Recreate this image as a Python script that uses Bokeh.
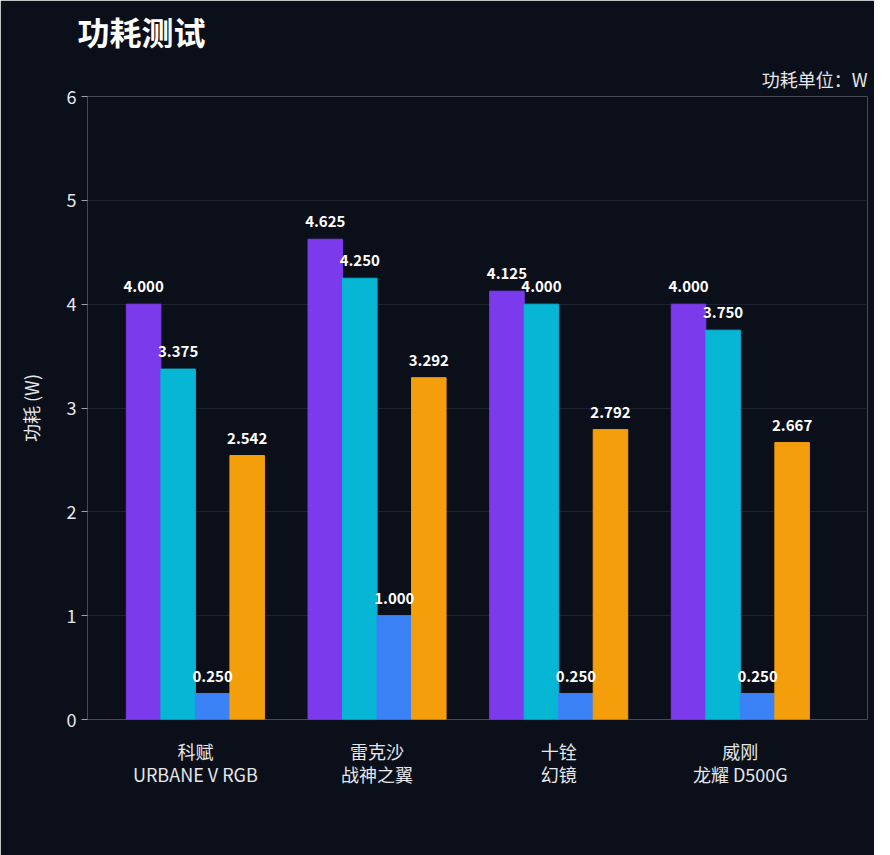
from bokeh.plotting import figure
from bokeh.models import ColumnDataSource, FixedTicker, Legend, LegendItem, Title, LabelSet
from bokeh.core.properties import value
from bokeh.embed import file_html
from bokeh.resources import INLINE

categories = ["科赋\nURBANE V RGB", "雷克沙\n战神之翼", "十铨\n幻镜", "威刚\n龙耀 D500G"]
series_names = ["功耗最高", "功耗当前", "功耗最低", "功耗平均"]
series_values = [
    [4.000, 4.625, 4.125, 4.000],
    [3.375, 4.250, 4.000, 3.750],
    [0.250, 1.000, 0.250, 0.250],
    [2.542, 3.292, 2.792, 2.667],
]
colors = ["#7c3aed", "#06b6d4", "#3b82f6", "#f59e0b"]
y_ticks = [0, 1, 2, 3, 4, 5, 6]

BG = "#0b0f19"
FONT = "Noto Sans CJK SC"
p = figure(frame_width=780, frame_height=623, output_backend="svg", toolbar_location=None,
           x_range=(-0.594, 3.70), y_range=(0, 6),
           background_fill_color=BG, border_fill_color=BG, outline_line_color=None,
           min_border_left=87, min_border_right=7, min_border_bottom=20, min_border_top=5)

w = 0.19
items = []
for i, (name, vals, c) in enumerate(zip(series_names, series_values, colors)):
    xs = [k + (i - 1.5) * w for k in range(len(categories))]
    src = ColumnDataSource(dict(x=xs, top=vals, lab=[f"{v:.3f}" for v in vals]))
    r = p.vbar(x="x", top="top", width=w, color=c, source=src)
    items.append(LegendItem(label=name, renderers=[r]))
    p.add_layout(LabelSet(x="x", y="top", text="lab", source=src, y_offset=12,
                          text_align="center", text_color="white", text_font_size="15px",
                          text_font_style="bold", text_font=value(FONT)))

p.xaxis.ticker = FixedTicker(ticks=list(range(len(categories))))
p.xaxis.major_label_overrides = {i: c for i, c in enumerate(categories)}
p.yaxis.ticker = FixedTicker(ticks=y_ticks)
for ax in (p.xaxis[0], p.yaxis[0]):
    ax.axis_line_color = None
    ax.major_label_text_color = "#e5e7eb"
    ax.major_label_text_font_size = "18px"
    ax.major_label_text_font = FONT
    ax.minor_tick_line_color = None
p.xaxis.major_label_text_line_height = 0.9
p.xaxis.major_tick_line_color = None
p.xaxis.major_label_standoff = 12
p.yaxis.major_tick_line_color = "#9ca3af"
p.yaxis.major_tick_in = 0
p.yaxis.major_tick_out = 6
p.yaxis.axis_label = "功耗 (W)"
p.yaxis.axis_label_text_color = "#e5e7eb"
p.yaxis.axis_label_text_font = FONT
p.yaxis.axis_label_text_font_size = "18px"
p.yaxis.axis_label_text_font_style = "normal"
p.yaxis.axis_label_standoff = 20
p.xgrid.grid_line_color = None
p.ygrid.grid_line_color = "#1c2230"

legend = Legend(items=items, orientation="horizontal", location="center",
                background_fill_alpha=0, border_line_color=None,
                label_text_color="#e5e7eb", label_text_font=FONT, label_text_font_size="18px",
                glyph_width=44, glyph_height=18, spacing=26, margin=20)
p.add_layout(legend, "below")

p.add_layout(Title(text="功耗单位：W", align="right", text_color="#e5e7eb",
                   text_font=FONT, text_font_size="18px", text_font_style="normal"), "above")
p.add_layout(Title(text="功耗测试", align="left", text_color="white", offset=-10,
                   text_font=FONT, text_font_size="32px", text_font_style="bold"), "above")

open("out.html", "w").write(file_html(p, INLINE))
